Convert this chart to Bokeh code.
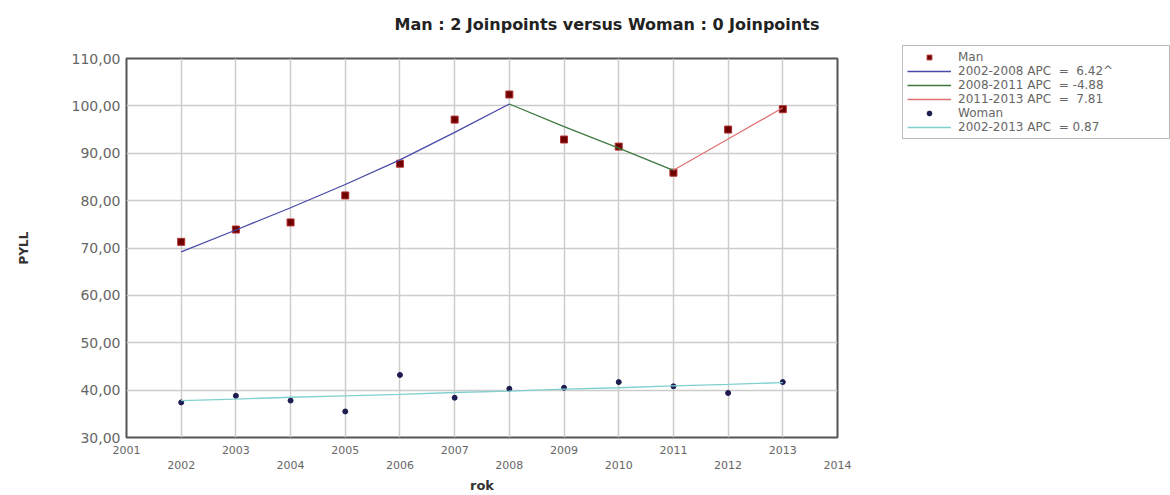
from bokeh.plotting import figure
from bokeh.layouts import row
from bokeh.models import LinearAxis, FixedTicker, Legend, LegendItem, Range1d
from bokeh.embed import file_html
from bokeh.resources import INLINE

# Observed PYLL per year
years = [2002, 2003, 2004, 2005, 2006, 2007, 2008, 2009, 2010, 2011, 2012, 2013]
man_pyll = [71.3, 73.9, 75.4, 81.1, 87.8, 97.1, 102.4, 92.9, 91.4, 85.9, 95.0, 99.3]
woman_pyll = [37.4, 38.8, 37.8, 35.5, 43.2, 38.4, 40.3, 40.5, 41.7, 40.8, 39.4, 41.7]

# Joinpoint model estimates
man_fit = [69.2, 73.8, 78.5, 83.4, 88.6, 94.4, 100.4, 95.6, 91.1, 86.4, 93.0, 99.6]
woman_fit = [37.8, 38.1, 38.5, 38.8, 39.1, 39.5, 39.8, 40.2, 40.5, 40.9, 41.2, 41.6]

# Man segments: (label, first year, last year, colour)
man_segments = [
    ("2002-2008 APC  =  6.42^", 2002, 2008, "#4a4aa8"),
    ("2008-2011 APC  = -4.88", 2008, 2011, "#3d7a3d"),
    ("2011-2013 APC  =  7.81", 2011, 2013, "#e07272"),
]
woman_label = "2002-2013 APC  = 0.87"

x_ticks = list(range(2001, 2015))
y_ticks = [30, 40, 50, 60, 70, 80, 90, 100, 110]
y_tick_labels = {v: f"{v},00" for v in y_ticks}

FONT = "DejaVu Sans"
TICK_COLOR = "#666666"
MAN_FILL, MAN_EDGE = "#6e0000", "#b03030"
WOMAN_COLOR = "#1c1c50"
WOMAN_FIT_COLOR = "#80d0d0"

p = figure(
    width=860, height=495,
    x_range=Range1d(2001, 2014), y_range=Range1d(30, 110),
    output_backend="svg", toolbar_location=None,
    min_border_left=126, min_border_right=23,
    min_border_top=58, min_border_bottom=56,
)
p.background_fill_color = "white"
p.border_fill_color = "white"
p.outline_line_color = "#555555"
p.outline_line_width = 2

xa = p.below[0]
ya = p.left[0]

# Blank spacer axis between the frame and the title (one hidden tick, empty label)
spacer = LinearAxis(ticker=FixedTicker(ticks=[x_ticks[0]]), axis_line_color=None,
                    major_tick_line_color=None, minor_tick_line_color=None,
                    major_tick_out=14, minor_tick_out=0, major_tick_in=0,
                    major_label_standoff=0, major_label_text_font_size="1px",
                    major_label_overrides={x_ticks[0]: ""})
p.add_layout(spacer, "above")

# Title
p.title.text = "Man : 2 Joinpoints  versus  Woman : 0 Joinpoints"
p.title.align = "left"
p.title.offset = 268
p.title.text_font = FONT
p.title.text_font_size = "16px"
p.title.text_font_style = "bold"
p.title.text_color = "#222222"
p.title.standoff = 22

# Grids
p.xgrid.ticker = FixedTicker(ticks=years)
p.ygrid.ticker = FixedTicker(ticks=y_ticks)
for g in (p.xgrid, p.ygrid):
    g.grid_line_color = "#cccccc"
    g.grid_line_width = 1.5

# Y axis
ya.ticker = FixedTicker(ticks=y_ticks)
ya.major_label_overrides = y_tick_labels
ya.axis_line_color = None
ya.major_tick_line_color = None
ya.minor_tick_line_color = None
ya.major_tick_out = 0
ya.minor_tick_out = 0
ya.major_label_standoff = 6
ya.major_label_text_font = FONT
ya.major_label_text_font_size = "14px"
ya.major_label_text_color = TICK_COLOR
ya.axis_label = "PYLL"
ya.axis_label_text_font = FONT
ya.axis_label_text_font_size = "12px"
ya.axis_label_text_font_style = "bold"
ya.axis_label_text_color = "#333333"
ya.axis_label_standoff = 38

# X axis: odd years on the first row, even years on the second row
xa.ticker = FixedTicker(ticks=[y for y in x_ticks if y % 2 == 1])
xb = LinearAxis(ticker=FixedTicker(ticks=[y for y in x_ticks if y % 2 == 0]))
p.add_layout(xb, "below")
for ax in (xa, xb):
    ax.axis_line_color = None
    ax.major_tick_line_color = None
    ax.minor_tick_line_color = None
    ax.major_tick_out = 0
    ax.minor_tick_out = 0
    ax.major_label_text_font = FONT
    ax.major_label_text_font_size = "11px"
    ax.major_label_text_color = TICK_COLOR
    ax.major_label_overrides = {y: str(y) for y in x_ticks}
xa.major_label_standoff = 8
xb.major_label_standoff = 4
xb.axis_label = "rok"
xb.axis_label_text_font = FONT
xb.axis_label_text_font_size = "13px"
xb.axis_label_text_font_style = "bold"
xb.axis_label_text_color = "#333333"
xb.axis_label_standoff = 6

# Man: observed values
p.scatter(years, man_pyll, marker="square", size=7,
          fill_color=MAN_FILL, line_color=MAN_EDGE, line_width=1)

# Man: joinpoint segments
for label, y0, y1, color in man_segments:
    i0, i1 = years.index(y0), years.index(y1)
    p.line(years[i0:i1 + 1], man_fit[i0:i1 + 1], line_color=color, line_width=1.3)

# Woman: observed values and trend
p.scatter(years, woman_pyll, marker="circle", size=5,
          fill_color=WOMAN_COLOR, line_color=WOMAN_COLOR)
p.line(years, woman_fit, line_color=WOMAN_FIT_COLOR, line_width=1.3)

# Legend panel to the right of the chart: its key glyphs use the same series,
# kept outside this panel's visible range so only the legend keys show.
lg = figure(
    width=310, height=495, x_range=Range1d(0, 1), y_range=Range1d(0, 1),
    output_backend="svg", toolbar_location=None,
    x_axis_location=None, y_axis_location=None, min_border=0,
)
lg.frame_align = False
lg.outline_line_color = None
lg.xgrid.visible = False
lg.ygrid.visible = False
lg.background_fill_color = "white"
lg.border_fill_color = "white"

items = []
r = lg.scatter(years, man_pyll, marker="square", size=7,
               fill_color=MAN_FILL, line_color=MAN_EDGE, line_width=1)
items.append(LegendItem(label="Man", renderers=[r]))
for label, y0, y1, color in man_segments:
    i0, i1 = years.index(y0), years.index(y1)
    r = lg.line(years[i0:i1 + 1], man_fit[i0:i1 + 1], line_color=color, line_width=1.5)
    items.append(LegendItem(label=label, renderers=[r]))
r = lg.scatter(years, woman_pyll, marker="circle", size=5,
               fill_color=WOMAN_COLOR, line_color=WOMAN_COLOR)
items.append(LegendItem(label="Woman", renderers=[r]))
r = lg.line(years, woman_fit, line_color=WOMAN_FIT_COLOR, line_width=1.5)
items.append(LegendItem(label=woman_label, renderers=[r]))

legend = Legend(
    items=items, location=(42, 356),
    label_text_font=FONT, label_text_font_size="12px", label_text_color="#666666",
    label_height=12, glyph_height=12, glyph_width=44, label_width=207,
    label_standoff=7, spacing=0, padding=4, margin=0,
    border_line_color="#777777", border_line_width=1.5,
    background_fill_color="white", background_fill_alpha=1.0,
)
lg.add_layout(legend, "center")

layout = row(p, lg, spacing=0)
open("out.html", "w").write(file_html(layout, INLINE))
